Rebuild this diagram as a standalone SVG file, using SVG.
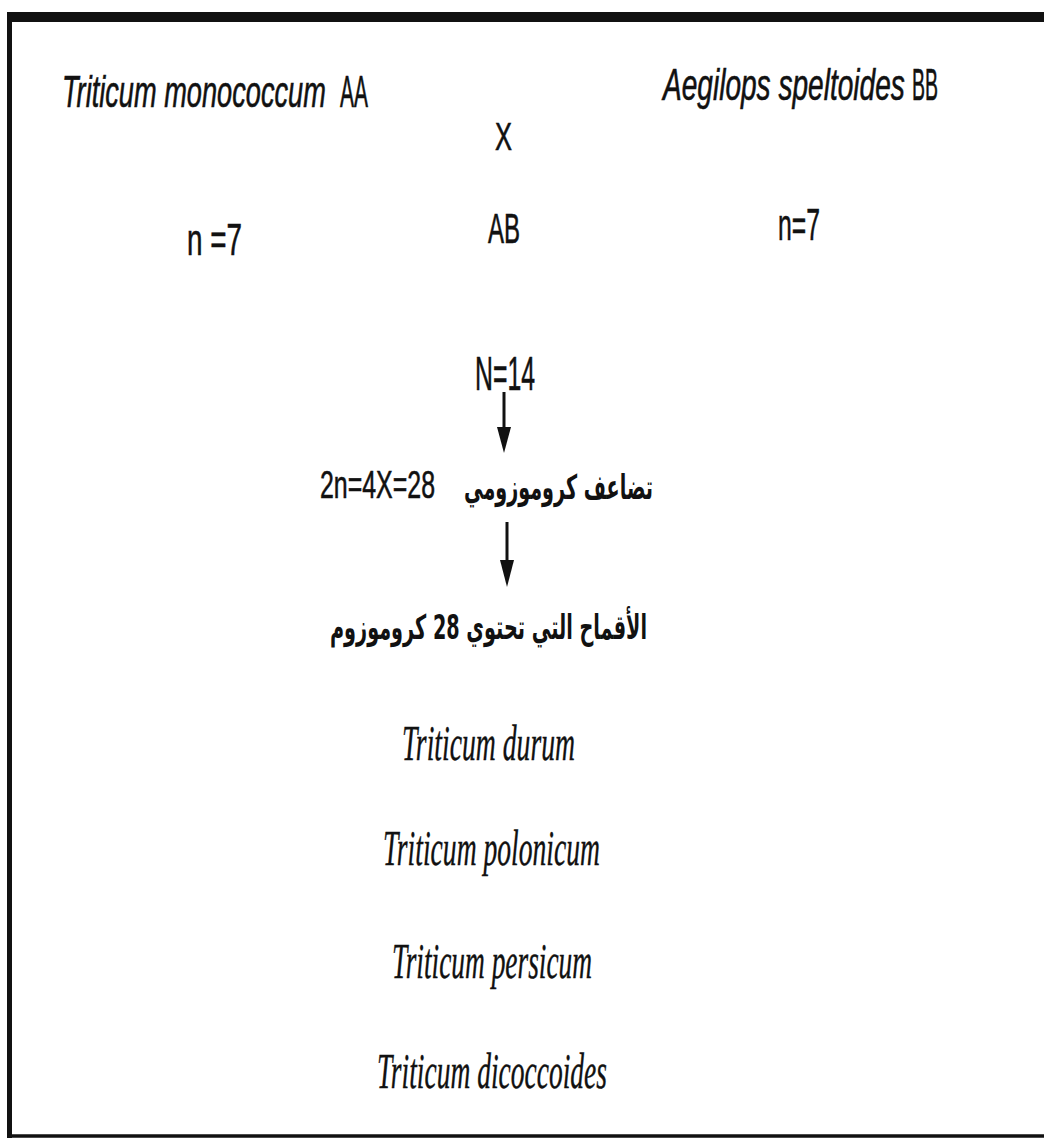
<svg xmlns="http://www.w3.org/2000/svg" width="1044" height="1140" viewBox="0 0 1044 1140">
<defs>
<style>
.s{font-family:"Liberation Sans",Arial,sans-serif;fill:#111;stroke:#111;stroke-width:0.6}
.it{font-style:italic}
.sr{font-family:"Liberation Serif","Times New Roman",serif;font-style:italic;fill:#111;text-anchor:middle;stroke:#111;stroke-width:0.4}
.ar{font-family:"DejaVu Sans",sans-serif;font-weight:bold;fill:#111;stroke:none}
.ln{stroke:#111;stroke-width:3;fill:none}
</style>
</defs>
<rect width="1044" height="1140" fill="#fff"/>
<g id="frame">
<line x1="7" y1="17" x2="1044" y2="17" stroke="#111" stroke-width="10"/>
<line x1="9.5" y1="12" x2="9.5" y2="1138" stroke="#111" stroke-width="5"/>
<line x1="7" y1="1136" x2="1044" y2="1136" stroke="#111" stroke-width="3.5"/>
</g>
<g id="connectors">
<line class="ln" x1="504" y1="392" x2="504" y2="430"/>
<path d="M497,427 L511,427 L504,453 Z" fill="#111"/>
<line class="ln" x1="507" y1="522" x2="507" y2="563"/>
<path d="M500,560 L514,560 L507,587 Z" fill="#111"/>
</g>
<g id="parentA">
<text class="s it" font-size="44" transform="translate(62,107) scale(0.618,1)">Triticum monococcum</text>
<text class="s" font-size="44" transform="translate(340,107) scale(0.477,1)">AA</text>
</g>
<g id="parentB">
<text class="s it" font-size="44" transform="translate(663,100) scale(0.638,1)">Aegilops speltoides</text>
<text class="s" font-size="44" transform="translate(912,100) scale(0.443,1)">BB</text>
</g>
<g id="cross">
<text class="s" x="495" y="150" font-size="38" textLength="17" lengthAdjust="spacingAndGlyphs">X</text>
</g>
<g id="nA">
<text class="s" x="187" y="255" font-size="44" textLength="55" lengthAdjust="spacingAndGlyphs">n =7</text>
</g>
<g id="hybrid">
<text class="s" x="488" y="243" font-size="42" textLength="32" lengthAdjust="spacingAndGlyphs">AB</text>
</g>
<g id="nB">
<text class="s" x="778" y="240" font-size="45" textLength="42" lengthAdjust="spacingAndGlyphs">n=7</text>
</g>
<g id="n14">
<text class="s" x="475" y="390" font-size="48" textLength="60" lengthAdjust="spacingAndGlyphs">N=14</text>
</g>
<g id="doubling">
<text class="s" font-size="39" transform="translate(320,498) scale(0.639,1)">2n=4X=28</text>
<text class="ar" x="464" y="499" font-size="34" textLength="189" lengthAdjust="spacingAndGlyphs">تضاعف كروموزومي</text>
</g>
<g id="wheats28">
<text class="ar" x="330" y="639" font-size="34" textLength="317" lengthAdjust="spacingAndGlyphs">الأقماح التي تحتوي 28 كروموزوم</text>
</g>
<g id="durum">
<text class="sr" x="488.5" y="760" font-size="50" textLength="173" lengthAdjust="spacingAndGlyphs">Triticum durum</text>
</g>
<g id="polonicum">
<text class="sr" x="491.5" y="865" font-size="50" textLength="217" lengthAdjust="spacingAndGlyphs">Triticum polonicum</text>
</g>
<g id="persicum">
<text class="sr" x="492" y="978" font-size="50" textLength="200" lengthAdjust="spacingAndGlyphs">Triticum persicum</text>
</g>
<g id="dicoccoides">
<text class="sr" x="492" y="1088" font-size="50" textLength="230" lengthAdjust="spacingAndGlyphs">Triticum dicoccoides</text>
</g>
</svg>
